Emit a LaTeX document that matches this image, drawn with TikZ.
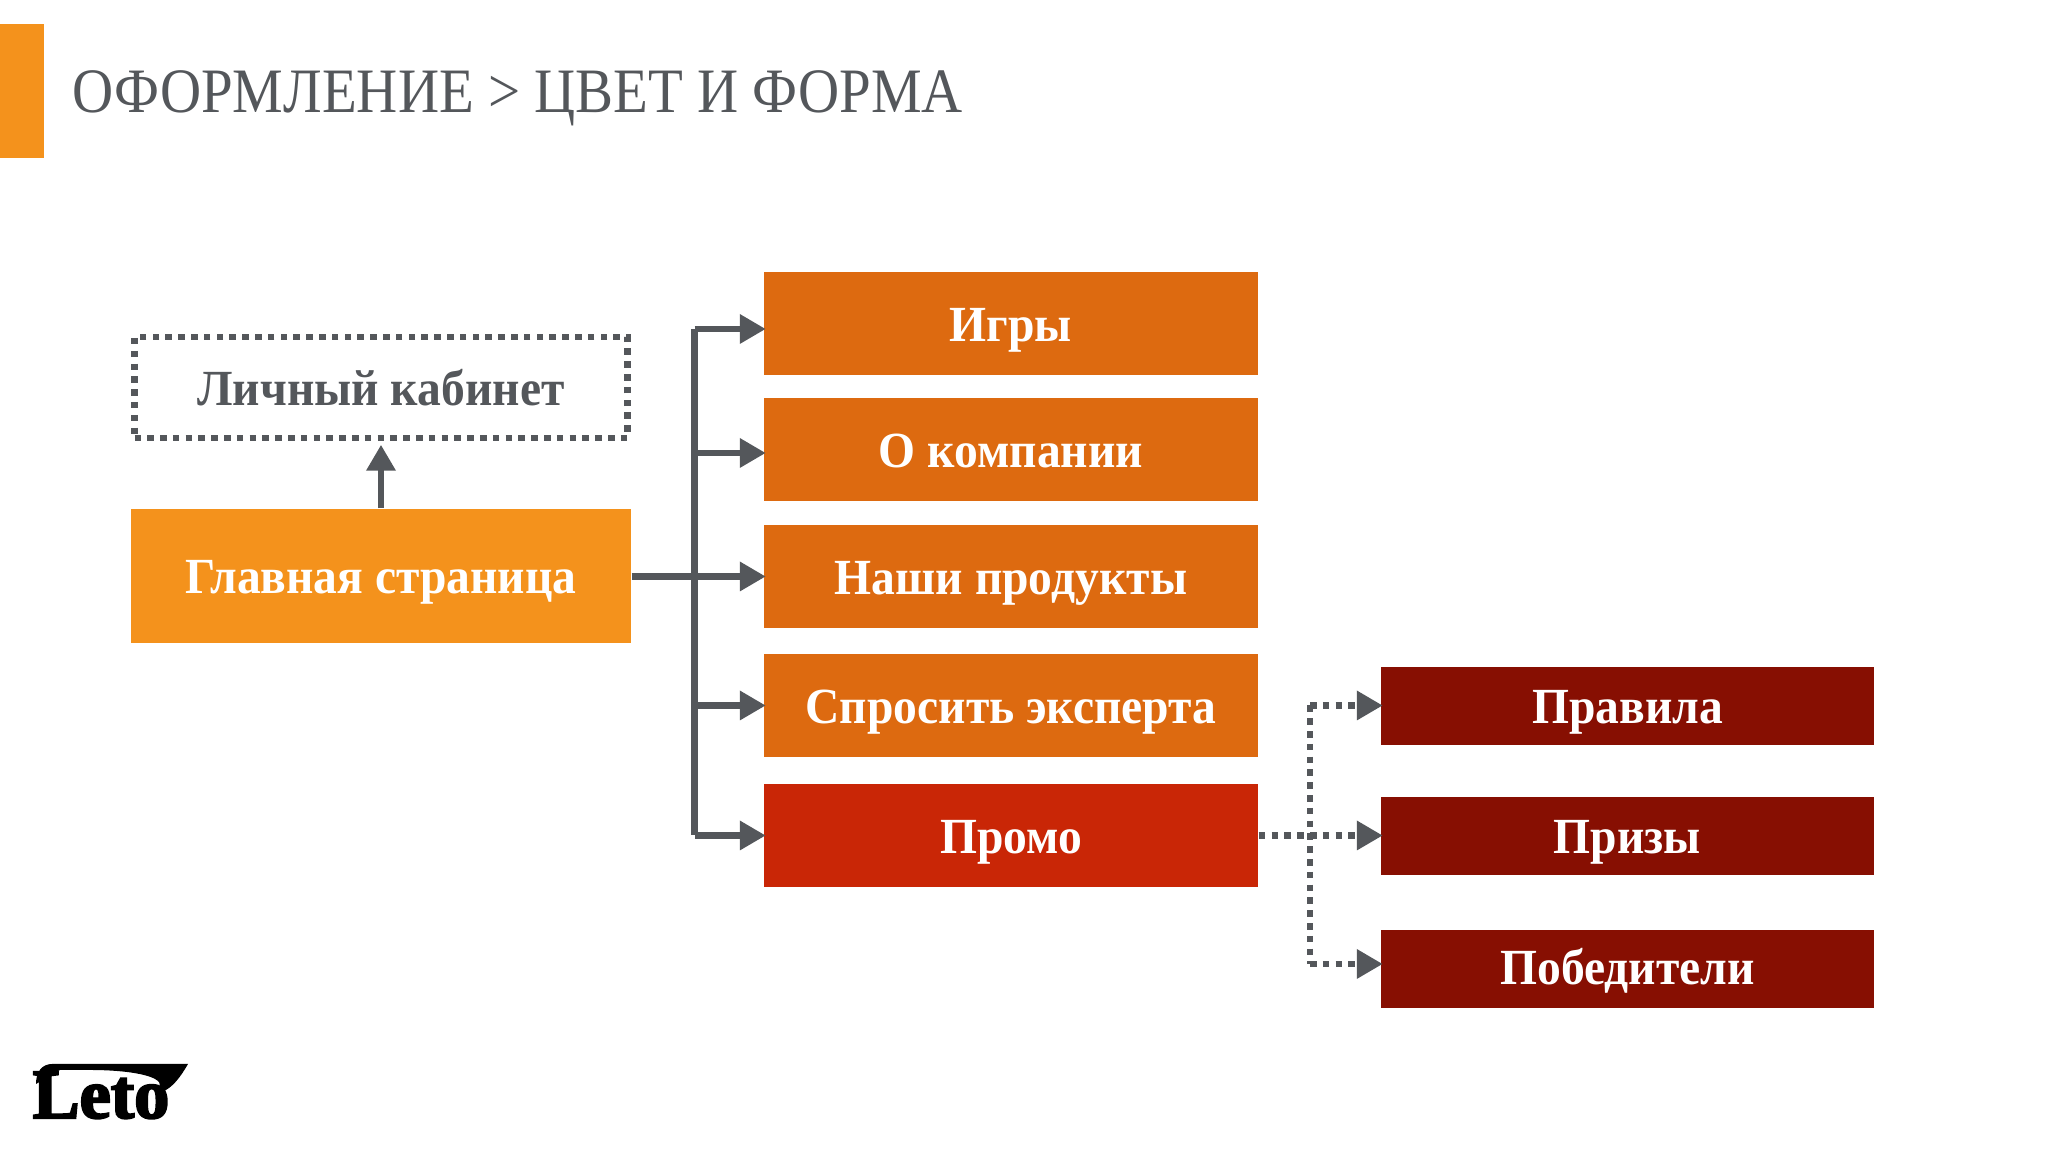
\documentclass[tikz,border=0pt]{standalone}
\usepackage{fontspec}
\setmainfont{Liberation Serif}
\newfontfamily\titlefont[FakeStretch=0.90]{Liberation Serif}
\newfontfamily\labelfont[FakeStretch=0.94]{Liberation Serif}
\newfontfamily\logofont[FakeBold=3]{Liberation Serif}
\usetikzlibrary{shapes, arrows.meta, positioning}
\usetikzlibrary{calc}
\definecolor{barOrange}{HTML}{F4921C}
\definecolor{pageOrange}{HTML}{DD6A10}
\definecolor{promoRed}{HTML}{C92606}
\definecolor{darkRed}{HTML}{870F02}
\definecolor{lineGray}{HTML}{54575B}

\begin{document}
\begin{tikzpicture}
  [
    Box/.style={rectangle, inner sep=0pt, text height=3.6mm, text depth=0pt, font=\labelfont\bfseries\fontsize{14.4}{16}\selectfont, text=white},
    Page/.style={Box, fill=pageOrange, minimum width=49.4mm, minimum height=10.3mm},
    Sub/.style={Box, fill=darkRed, minimum width=49.3mm, minimum height=7.8mm},
    Link/.style={draw=lineGray, line width=0.65mm},
    Tip/.style={-{Triangle[length=2.6mm, width=2.8mm]}, shorten >=-0.25mm},
    Dots/.style={Link, dash pattern=on 0.65mm off 0.63mm}
  ]
  \useasboundingbox (0, 0) rectangle (20.48, 11.52);
  % Nodes
  \node[fill=barOrange, minimum width=4.4mm, minimum height=13.4mm, inner sep=0pt] (bar) at(0.22, 10.61) {};
  \node[anchor=base west, inner sep=0pt, text=lineGray, font=\titlefont\fontsize{18}{20}\selectfont] (title) at(0.72, 10.39) {ОФОРМЛЕНИЕ > ЦВЕТ И ФОРМА};

  \node[Box, Dots, minimum width=49.3mm, minimum height=10.1mm, text=lineGray] (cabinet) at(3.81, 7.645) {Личный кабинет};
  \node[Box, fill=barOrange, minimum width=50mm, minimum height=13.4mm] (main) at(3.81, 5.76) {Главная страница};

  \node[Page] (games) at(10.11, 8.285) {Игры};
  \node[Page] (company) at(10.11, 7.02) {О компании};
  \node[Page] (products) at(10.11, 5.755) {Наши продукты};
  \node[Page] (expert) at(10.11, 4.465) {Спросить эксперта};
  \node[Page, fill=promoRed] (promo) at(10.11, 3.165) {Промо};

  \node[Sub] (rules) at(16.275, 4.46) {Правила};
  \node[Sub] (prizes) at(16.275, 3.16) {Призы};
  \node[Sub, text height=3.1mm] (winners) at(16.275, 1.83) {Победители};

  % Bus lines
  \coordinate (busGames) at(6.945, 8.23);
  \coordinate (busCompany) at(6.945, 6.99);
  \coordinate (busProducts) at(6.945, 5.755);
  \coordinate (busExpert) at(6.945, 4.465);
  \coordinate (busPromo) at(6.945, 3.165);
  \coordinate (dotRules) at(13.10, 4.465);
  \coordinate (dotPrizes) at(13.10, 3.165);
  \coordinate (dotWinners) at(13.10, 1.88);

  \draw[Link, Tip, shorten >=0.35mm] (main.north) -- (cabinet.south);
  \draw[Link] (main.east |- busProducts) -- (busProducts);
  \draw[Link, line cap=square] (busGames) -- (busPromo);
  \foreach \bus/\page in {busGames/games, busCompany/company, busProducts/products, busExpert/expert, busPromo/promo}
    \draw[Link, Tip] (\bus) -- (\bus -| \page.west);

  \draw[Dots] (promo.east |- dotPrizes) -- (dotPrizes);
  \draw[Dots] (dotRules) -- (dotWinners);
  \foreach \dot/\page in {dotRules/rules, dotPrizes/prizes, dotWinners/winners}
    \draw[Dots, Tip] (\dot) -- (\dot -| \page.west);

  % Logo
  \fill[black] (0.36, 0.68) .. controls (0.36, 0.80) and (0.42, 0.88) .. (0.52, 0.88) -- (1.88, 0.88) .. controls (1.80, 0.74) and (1.72, 0.64) .. (1.62, 0.60) -- (1.60, 0.66) .. controls (1.62, 0.76) and (1.30, 0.82) .. (0.90, 0.82) -- (0.60, 0.82) -- cycle;
  \node[anchor=base west, inner sep=0pt, font=\logofont\bfseries\fontsize{20}{24}\selectfont, text=black] (logo) at(0.32, 0.34) {Leto};
\end{tikzpicture}
\end{document}
